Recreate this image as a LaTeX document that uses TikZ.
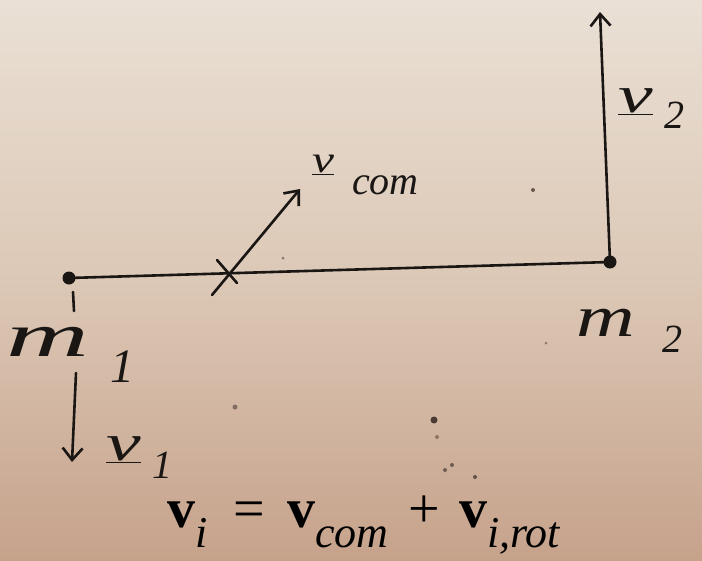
\documentclass[tikz,border=0pt]{standalone}
\usepackage{fontspec}
\setmainfont{Liberation Serif}
\usetikzlibrary{arrows.meta,calc}
\definecolor{paperTop}{HTML}{EAE0D5}
\definecolor{paperMid}{HTML}{DCC8B6}
\definecolor{paperBot}{HTML}{C6A28B}
\definecolor{ink}{HTML}{1A1614}
\definecolor{speck}{HTML}{4A3A34}
\tikzset{
  pen/.style={draw=ink, line width=2.6pt, line cap=round},
  vec/.style={pen, -{Straight Barb[length=12pt,width=20pt,line width=2.6pt]}},
  mass/.style={circle, fill=ink, inner sep=0pt, minimum size=13pt},
  hand/.style={text=ink, font=\fontsize{52}{56}\selectfont\itshape, inner sep=0pt, anchor=base west},
  sub/.style={text=ink, font=\fontsize{40}{44}\selectfont\itshape, inner sep=0pt, anchor=base west},
  dot/.style={circle, fill=speck, inner sep=0pt}
}
\newcommand{\eqsub}[1]{\raisebox{-20pt}{\fontsize{44}{48}\selectfont\itshape #1}}
\begin{document}
\begin{tikzpicture}[x=1pt,y=-1pt]
  \shade[top color=paperTop, bottom color=paperMid] (0,0) rectangle (702,280);
  \shade[top color=paperMid, bottom color=paperBot] (0,280) rectangle (702,560);
  \useasboundingbox (0,0) rectangle (702,560);
  % specks
  \node[dot, minimum size=7pt] (s1) at (434,420) {};
  \node[dot, minimum size=4pt, opacity=0.5] (s2) at (437,437) {};
  \node[dot, minimum size=4pt, opacity=0.7] (s3) at (445,470) {};
  \node[dot, minimum size=4pt, opacity=0.7] (s4) at (452,465) {};
  \node[dot, minimum size=4pt, opacity=0.8] (s5) at (475,477) {};
  \node[dot, minimum size=4pt, opacity=0.8] (s6) at (533,190) {};
  \node[dot, minimum size=3pt, opacity=0.5] (s7) at (546,343) {};
  \node[dot, minimum size=5pt, opacity=0.6] (s8) at (235,407) {};
  \node[dot, minimum size=3pt, opacity=0.6] (s9) at (283,258) {};
  % masses
  \node[mass] (m1) at (69,278) {};
  \node[mass] (m2) at (610,262) {};
  \coordinate (com) at (225,270);
  \draw[pen] (m1.center) -- (m2.center);
  \draw[pen] (73,292) -- (74,311);
  % cross at com
  \draw[pen] (217,260) -- (237,283);
  % v_com
  \coordinate (vcomtail) at (212,295);
  \coordinate (vcomtip) at (300,189);
  \draw[vec] (vcomtail) -- (vcomtip);
  \node[hand, font=\fontsize{38}{42}\selectfont\itshape] (lvcom) at (312,172) {\underline{\scalebox{1.3}[1]{v}}};
  \node[sub] (lvcomsub) at (352,194) {com};
  % v2
  \coordinate (v2tip) at (600,12);
  \draw[vec] (m2.center) -- (v2tip);
  \node[hand] (lv2) at (618,112) {\underline{\scalebox{1.5}[1]{v}}};
  \node[sub] (lv2sub) at (664,128) {2};
  % labels
  \node[hand, font=\fontsize{62}{66}\selectfont\itshape] (lm1) at (6,356) {\scalebox{1.85}[1]{m}};
  \node[sub, font=\fontsize{48}{52}\selectfont\itshape] (lm1sub) at (110,382) {1};
  \node[hand, font=\fontsize{58}{62}\selectfont\itshape] (lm2) at (576,336) {\scalebox{1.4}[1]{m}};
  \node[sub] (lm2sub) at (662,352) {2};
  % v1
  \coordinate (v1start) at (76,373);
  \coordinate (v1tip) at (72,462);
  \draw[vec] (v1start) -- (v1tip);
  \node[hand] (lv1) at (106,460) {\underline{\scalebox{1.5}[1]{v}}};
  \node[sub] (lv1sub) at (152,478) {1};
  % equation
  \node[text=black, font=\fontsize{56}{60}\selectfont, inner sep=0pt, anchor=base] (eq) at (364,527)
    {\textbf{v}\eqsub{i}\hspace{0.45em}=\hspace{0.4em}\textbf{v}\eqsub{com}\hspace{0.35em}+\hspace{0.35em}\textbf{v}\eqsub{i,rot}};
\end{tikzpicture}
\end{document}
